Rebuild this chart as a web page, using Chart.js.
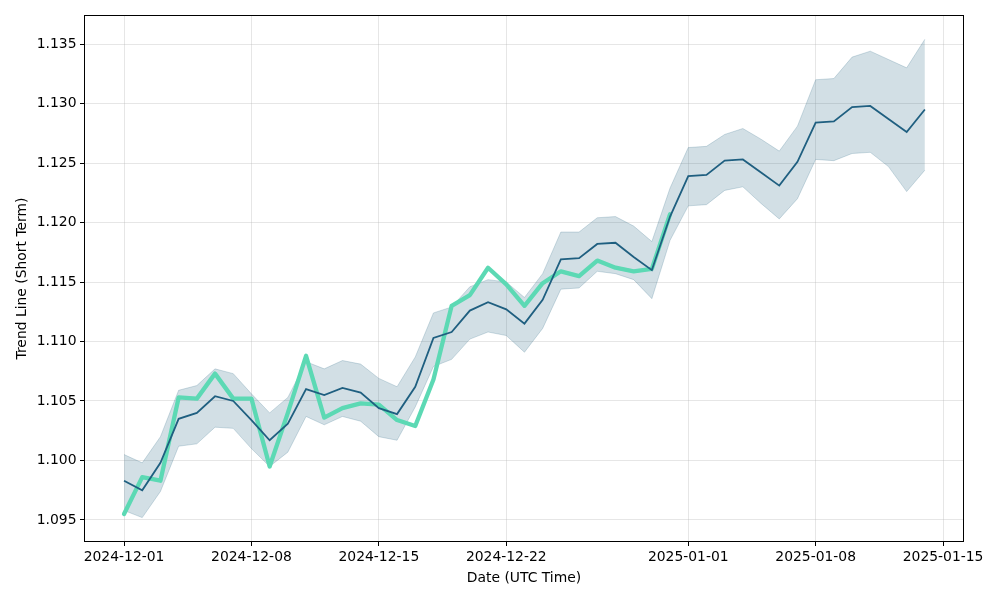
<!DOCTYPE html>
<html>
<head>
<meta charset="utf-8">
<script src="https://cdn.jsdelivr.net/npm/chart.js@4.4.0/dist/chart.umd.min.js"></script>
<style>
  body { margin: 0; background: #fff; }
  #wrap { width: 1000px; height: 600px; }
</style>
</head>
<body>
<div id="wrap"><canvas id="myChart" width="1000" height="600"></canvas></div>
<script>
// days since 2024-12-01
let days = [];
for (let i = 0; i <= 44; i++) days.push(i);

let trendValues = [1.0983, 1.0975, 1.0998, 1.1035, 1.1040, 1.1054, 1.1050, 1.1034, 1.1017, 1.1031,
    1.1060, 1.1055, 1.1061, 1.1057, 1.1044, 1.1039, 1.1062, 1.1103, 1.1108, 1.1126,
    1.1133, 1.1127, 1.1115, 1.1135, 1.1169, 1.1170, 1.1182, 1.1183, 1.1171, 1.1160,
    1.1205, 1.1239, 1.1240, 1.1252, 1.1253, 1.1242, 1.1231, 1.1251, 1.1284, 1.1285,
    1.1297, 1.1298, 1.1287, 1.1276, 1.1295];

let upperValues = [1.1005, 1.0998, 1.1020, 1.1059, 1.1063, 1.1077, 1.1073, 1.1056, 1.1040, 1.1053,
    1.1083, 1.1077, 1.1084, 1.1081, 1.1069, 1.1062, 1.1087, 1.1124, 1.1129, 1.1146,
    1.1152, 1.1150, 1.1137, 1.1157, 1.1192, 1.1192, 1.1204, 1.1205, 1.1197, 1.1184,
    1.1229, 1.1263, 1.1264, 1.1274, 1.1279, 1.1270, 1.1260, 1.1281, 1.1320, 1.1321,
    1.1339, 1.1344, 1.1337, 1.1330, 1.1354];

let lowerValues = [1.0958, 1.0952, 1.0974, 1.1012, 1.1014, 1.1028, 1.1027, 1.1010, 1.0995, 1.1007,
    1.1037, 1.1030, 1.1037, 1.1033, 1.1020, 1.1017, 1.1045, 1.1079, 1.1085, 1.1102,
    1.1108, 1.1105, 1.1091, 1.1111, 1.1144, 1.1145, 1.1159, 1.1157, 1.1152, 1.1136,
    1.1185, 1.1214, 1.1215, 1.1227, 1.1230, 1.1216, 1.1203, 1.1220, 1.1253, 1.1252,
    1.1258, 1.1259, 1.1247, 1.1226, 1.1244];

// actual price, only up to 2024-12-31
let priceValues = [1.0955, 1.0986, 1.0983, 1.1053, 1.1052, 1.1073, 1.1052, 1.1052, 1.0995, 1.1040,
    1.1088, 1.1036, 1.1044, 1.1048, 1.1047, 1.1034, 1.1029, 1.1068, 1.1130, 1.1139,
    1.1162, 1.1148, 1.1130, 1.1149, 1.1159, 1.1155, 1.1168, 1.1162, 1.1159, 1.1161,
    1.1207];

let xTickDays = [0, 7, 14, 21, 31, 38, 45];
let xTickLabels = ["2024-12-01", "2024-12-08", "2024-12-15", "2024-12-22", "2025-01-01", "2025-01-08", "2025-01-15"];
let yTicks = [1.095, 1.100, 1.105, 1.110, 1.115, 1.120, 1.125, 1.130, 1.135];

function toPoints(values) {
    return values.map((v, i) => ({ x: days[i], y: v }));
}

const FONT = { family: "'DejaVu Sans', sans-serif", size: 13.9 };
const gridColor = 'rgba(176,176,176,0.32)';
const bandColor = 'rgba(31,95,127,0.2)';

// рамка вокруг области графика
const framePlugin = {
    id: 'frame',
    afterDatasetsDraw(chart) {
        const a = chart.chartArea;
        const ctx = chart.ctx;
        ctx.save();
        ctx.strokeStyle = '#000';
        ctx.lineWidth = 1;
        ctx.strokeRect(Math.round(a.left) + 0.5, Math.round(a.top) + 0.5,
            Math.round(a.right - a.left) - 1, Math.round(a.bottom - a.top) - 1);
        ctx.restore();
    }
};

let ctx = document.getElementById('myChart').getContext('2d');
let myChart = new Chart(ctx, {
    type: 'line',
    data: {
        datasets: [
            {
                label: 'Trend',
                data: toPoints(trendValues),
                borderColor: '#1f5f80',
                borderWidth: 1.8,
                pointRadius: 0,
                tension: 0,
                fill: false,
                order: 0
            },
            {
                label: 'Price',
                data: toPoints(priceValues),
                borderColor: '#5cd9b4',
                borderWidth: 4.3,
                pointRadius: 0,
                tension: 0,
                fill: false,
                borderJoinStyle: 'round',
                borderCapStyle: 'round',
                order: 1
            },
            {
                label: 'Upper',
                data: toPoints(upperValues),
                borderColor: bandColor,
                backgroundColor: bandColor,
                borderWidth: 1,
                pointRadius: 0,
                tension: 0,
                fill: 3,
                order: 2
            },
            {
                label: 'Lower',
                data: toPoints(lowerValues),
                borderColor: bandColor,
                borderWidth: 1,
                pointRadius: 0,
                tension: 0,
                fill: false,
                order: 3
            }
        ]
    },
    options: {
        responsive: false,
        animation: false,
        layout: { padding: { top: 15, right: 36, left: 0, bottom: 0 } },
        plugins: {
            legend: { display: false },
            tooltip: { enabled: false }
        },
        scales: {
            x: {
                type: 'linear',
                min: -2.2,
                max: 46.15,
                afterBuildTicks: scale => { scale.ticks = xTickDays.map(v => ({ value: v })); },
                afterFit: scale => { scale.height = 58; },
                ticks: {
                    autoSkip: false,
                    maxRotation: 0,
                    padding: 3,
                    color: '#000',
                    font: FONT,
                    callback: (value) => xTickLabels[xTickDays.indexOf(value)]
                },
                grid: { color: gridColor, tickColor: '#000', tickLength: 4, lineWidth: 1 },
                border: { display: false },
                title: {
                    display: true,
                    text: 'Date (UTC Time)',
                    color: '#000',
                    font: FONT,
                    padding: { top: 0, bottom: 13.7 }
                }
            },
            y: {
                min: 1.09315,
                max: 1.13744,
                afterBuildTicks: scale => { scale.ticks = yTicks.map(v => ({ value: v })); },
                afterFit: scale => { scale.width = 84; },
                ticks: {
                    padding: 3.5,
                    color: '#000',
                    font: FONT,
                    callback: (value) => value.toFixed(3)
                },
                grid: { color: gridColor, tickColor: '#000', tickLength: 4, lineWidth: 1 },
                border: { display: false },
                title: {
                    display: true,
                    text: 'Trend Line (Short Term)',
                    color: '#000',
                    font: FONT,
                    padding: { top: 13.7, bottom: 0 }
                }
            }
        }
    },
    plugins: [framePlugin]
});
</script>
</body>
</html>
